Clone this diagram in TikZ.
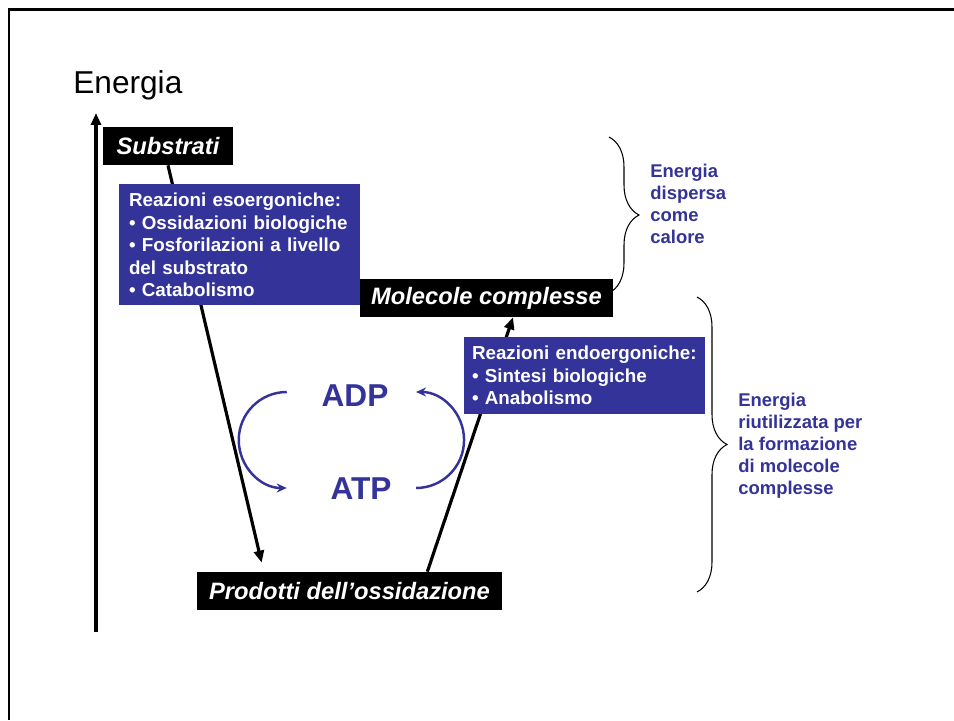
\documentclass[tikz,border=0pt]{standalone}
\usepackage{fontspec}
\setmainfont{Liberation Sans}
\usetikzlibrary{arrows.meta,backgrounds,decorations.pathreplacing}
\definecolor{slideblue}{HTML}{333399}
\tikzset{
  blackbox/.style={fill=black, text=white, font=\fontsize{13.5}{16}\selectfont\bfseries\itshape, inner sep=0pt, minimum height=0.76cm},
  bluebox/.style={fill=slideblue, text=white, font=\fontsize{10.7}{12.75}\selectfont\bfseries, align=left, inner xsep=0.2cm, inner ysep=0pt},
  molecule/.style={text=slideblue, font=\fontsize{18}{21}\selectfont\bfseries, inner sep=0pt},
  note/.style={text=slideblue, font=\fontsize{10.5}{12.5}\selectfont\bfseries, align=left, inner sep=0pt},
  reaction/.style={line width=1.8pt, -{Triangle[length=0.24cm,width=0.2cm]}},
  cyclearrow/.style={slideblue, line width=1.4pt, -{Stealth[length=0.2cm,width=0.18cm]}},
  energybrace/.style={decorate, decoration={brace, amplitude=0.6cm}, line width=0.6pt}
}

\begin{document}
\begin{tikzpicture}
    \useasboundingbox (0,0) rectangle (19.08,14.4);
    % cornice
    \draw[line width=1.7pt] (19.08,14.21) -| (0.18,0);

    % asse dell'energia
    \coordinate (axbot) at (1.92,1.76);
    \coordinate (axtop) at (1.92,12.14);
    \draw[line width=2pt, -{Triangle[length=0.24cm,width=0.2cm]}] (axbot) -- (axtop);
    \node[anchor=base west, inner sep=0pt, font=\fontsize{18}{21}\selectfont] (energia) at (1.46,12.52) {Energia};

    % livelli energetici
    \node[blackbox, minimum width=2.6cm] (subs) at (3.36,11.48) {Substrati};
    \node[blackbox, minimum width=5.06cm] (mol) at (9.73,8.44) {Molecole complesse};
    \node[blackbox, minimum width=6.1cm] (prod) at (6.99,2.58) {Prodotti dell’ossidazione};

    % reazioni
    \node[bluebox, text width=4.42cm, minimum height=2.42cm] (eso) at (4.79,9.5)
        {Reazioni esoergoniche:\\• Ossidazioni biologiche\\• Fosforilazioni a livello\\del substrato\\• Catabolismo};
    \node[bluebox, inner xsep=0.16cm, text width=4.5cm, minimum height=1.54cm] (endo) at (11.69,6.89)
        {Reazioni endoergoniche:\\• Sintesi biologiche\\• Anabolismo};

    \begin{scope}[on background layer]
        \draw[reaction] (subs.south) -- ([shift={(1.3,0.18)}]prod.north west);
        \draw[reaction] ([xshift=-1.5cm]prod.north east) -- ([xshift=0.53cm]mol.south);
    \end{scope}

    % ciclo ADP / ATP
    \node[molecule] (adp) at (7.1,6.48) {ADP};
    \node[molecule] (atp) at (7.22,4.62) {ATP};
    \draw[cyclearrow] ([shift={(-0.69,0.08)}]adp.west) arc[start angle=90, end angle=270, radius=0.96cm];
    \draw[cyclearrow] ([shift={(0.485,0.02)}]atp.east) arc[start angle=-90, end angle=90, radius=0.96cm];

    % bilancio energetico
    \draw[energybrace] (12.18,11.66) -- (12.18,8.54);
    \node[note, anchor=west] (calore) at (13.0,10.33) {Energia\\dispersa\\come\\calore};
    \draw[energybrace] (13.94,8.46) -- (13.94,2.56);
    \node[note, anchor=west] (riuso) at (14.76,5.49) {Energia\\riutilizzata per\\la formazione\\di molecole\\complesse};
\end{tikzpicture}
\end{document}
